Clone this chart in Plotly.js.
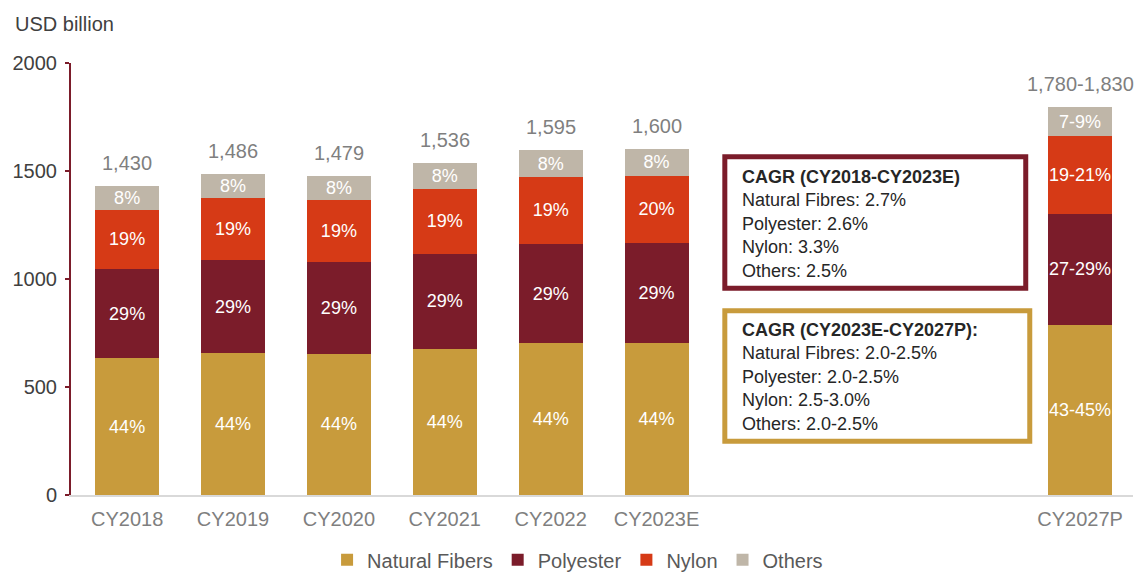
<!DOCTYPE html>
<html>
<head>
<meta charset="utf-8">
<script src="https://cdn.plot.ly/plotly-3.0.1.min.js"></script>
<style>html,body{margin:0;padding:0;background:#fff;}#chart{width:1142px;height:573px;}</style>
</head>
<body>
<div id="chart"></div>
<script>
// ---- data ----
var categories = ['CY2018','CY2019','CY2020','CY2021','CY2022','CY2023E','CY2027P'];
var natural   = [632, 656, 653, 677, 702, 705, 789];
var polyester = [415, 432, 427, 441, 461, 460, 513];
var nylon     = [273, 285, 286, 300, 309, 314, 359];
var others    = [110, 113, 113, 118, 123, 121, 136];
var naturalPct   = ['44%','44%','44%','44%','44%','44%','43-45%'];
var polyesterPct = ['29%','29%','29%','29%','29%','29%','27-29%'];
var nylonPct     = ['19%','19%','19%','19%','19%','20%','19-21%'];
var othersPct    = ['8%','8%','8%','8%','8%','8%','7-9%'];
var totalLabels  = ['1,430','1,486','1,479','1,536','1,595','1,600','1,780-1,830'];
var spacers = [' ', '  ', '   '];
var cagrHist = ['CAGR (CY2018-CY2023E)','Natural Fibres: 2.7%','Polyester: 2.6%','Nylon: 3.3%','Others: 2.5%'];
var cagrProj = ['CAGR (CY2023E-CY2027P):','Natural Fibres: 2.0-2.5%','Polyester: 2.0-2.5%','Nylon: 2.5-3.0%','Others: 2.0-2.5%'];

var FONT = 'Liberation Sans, Arial, sans-serif';
var C_NAT = '#C89B3C', C_POL = '#7B1C2A', C_NYL = '#D63A16', C_OTH = '#BFB6A8';

function barTrace(name, vals, txt, color) {
  return {
    type: 'bar', name: name, x: categories, y: vals, text: txt,
    textposition: 'inside', insidetextanchor: 'middle', constraintext: 'none', textangle: 0,
    textfont: {family: FONT, size: 18, color: '#ffffff'},
    marker: {color: color}, width: 0.605, hoverinfo: 'skip'
  };
}

var data = [
  barTrace('Natural Fibers', natural, naturalPct, C_NAT),
  barTrace('Polyester', polyester, polyesterPct, C_POL),
  barTrace('Nylon', nylon, nylonPct, C_NYL),
  barTrace('Others', others, othersPct, C_OTH)
];

var annotations = categories.map(function (c, i) {
  return {
    x: c, y: natural[i] + polyester[i] + nylon[i] + others[i],
    xref: 'x', yref: 'y', text: totalLabels[i], showarrow: false,
    yanchor: 'middle', yshift: 23,
    font: {family: FONT, size: 20, color: '#7f7f7f'}
  };
});
annotations.push({
  xref: 'paper', yref: 'paper', x: -0.0546, y: 1.091, xanchor: 'left', yanchor: 'middle',
  text: 'USD billion', showarrow: false, font: {family: FONT, size: 20, color: '#404040'}
});
function block(lines) {
  return '<b>' + lines[0] + '</b><br>' + lines.slice(1).join('<br>');
}
annotations.push({
  xref: 'x', yref: 'y', x: 5.785, y: 1255, xanchor: 'left', yanchor: 'middle', align: 'left',
  text: block(cagrHist), showarrow: false, font: {family: FONT, size: 18, color: '#262626'}
});
annotations.push({
  xref: 'x', yref: 'y', x: 5.785, y: 545, xanchor: 'left', yanchor: 'middle', align: 'left',
  text: block(cagrProj), showarrow: false, font: {family: FONT, size: 18, color: '#262626'}
});

var layout = {
  width: 1142, height: 573,
  margin: {l: 71, r: 9, t: 63, b: 78, autoexpand: false},
  paper_bgcolor: '#ffffff', plot_bgcolor: '#ffffff',
  barmode: 'stack',
  font: {family: FONT},
  showlegend: true,
  legend: {
    orientation: 'h', x: 0.477, xanchor: 'center', y: -0.150, yanchor: 'middle',
    font: {family: FONT, size: 20, color: '#595959'}, traceorder: 'normal'
  },
  xaxis: {
    type: 'category',
    categoryorder: 'array',
    categoryarray: categories.slice(0, 6).concat(spacers, categories.slice(6)),
    tickvals: categories, ticktext: categories,
    range: [-0.53, 9.5], showgrid: false, zeroline: false,
    showline: true, linecolor: '#d9d9d9', linewidth: 2, ticks: '',
    ticklabelstandoff: 5,
    tickfont: {family: FONT, size: 20, color: '#7f7f7f'}, fixedrange: true
  },
  yaxis: {
    range: [0, 2000], tickvals: [0, 500, 1000, 1500, 2000],
    showgrid: false, zeroline: false,
    showline: true, linecolor: C_POL, linewidth: 2,
    ticks: 'outside', ticklen: 4, tickcolor: C_POL, tickwidth: 2,
    ticklabelstandoff: 4,
    tickfont: {family: FONT, size: 20, color: '#404040'}, fixedrange: true
  },
  shapes: [
    {type: 'rect', xref: 'x', yref: 'y', x0: 5.645, x1: 8.487, y0: 957, y1: 1566,
     line: {color: C_POL, width: 5}, fillcolor: 'rgba(0,0,0,0)'},
    {type: 'rect', xref: 'x', yref: 'y', x0: 5.645, x1: 8.525, y0: 249, y1: 853,
     line: {color: C_NAT, width: 5}, fillcolor: 'rgba(0,0,0,0)'}
  ],
  annotations: annotations
};

Plotly.newPlot('chart', data, layout, {displayModeBar: false, staticPlot: true});
</script>
</body>
</html>
